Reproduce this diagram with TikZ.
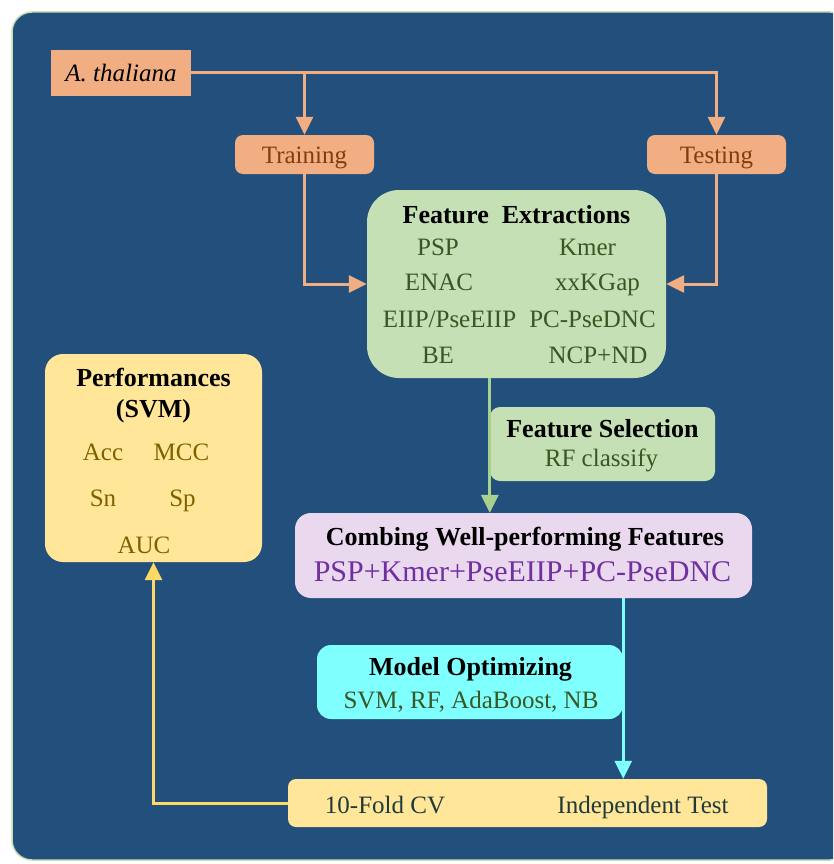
\documentclass[tikz,border=0pt]{standalone}
\usepackage{fontspec}
\setmainfont{Liberation Serif}
\usetikzlibrary{arrows.meta}

\definecolor{bgblue}{HTML}{224F7B}
\definecolor{salmon}{HTML}{F1AE83}
\definecolor{brown}{HTML}{843C0C}
\definecolor{leaf}{HTML}{C5E0B4}
\definecolor{leafline}{HTML}{A9D18E}
\definecolor{darkgreen}{HTML}{385723}
\definecolor{lavender}{HTML}{EAD8EE}
\definecolor{violet}{HTML}{7030A0}
\definecolor{aqua}{HTML}{80FFFF}
\definecolor{cream}{HTML}{FFE699}
\definecolor{gold}{HTML}{FFD966}
\definecolor{olive}{HTML}{7F6000}
\definecolor{slate}{HTML}{1F3A3A}

\begin{document}
\begin{tikzpicture}[x=1pt, y=-1pt,
    box/.style={rounded corners=8pt, inner sep=0pt},
    txt/.style={font=\fontsize{25}{28}\selectfont, inner sep=0pt, anchor=base},
    ttl/.style={font=\fontsize{26}{29}\selectfont\bfseries, inner sep=0pt, anchor=base},
    flow/.style={line width=3pt, -{Triangle[length=18pt, width=17pt]}}]
    \useasboundingbox (0,0) rectangle (833,864);
    \clip (0,0) rectangle (833,864);
    \fill[white] (0,0) rectangle (833,864);
    \draw[fill=bgblue, draw=leaf, line width=1.5pt, rounded corners=20pt] (12,12) rectangle (850,860);

    % boxes
    \node[box, fill=salmon, rounded corners=0pt, minimum width=140pt, minimum height=46pt] (species) at (121,73) {};
    \node[txt] (speciesTxt) at (121,82) {\textit{A. thaliana}};
    \node[box, fill=salmon, minimum width=139pt, minimum height=39pt] (train) at (304.5,154.5) {};
    \node[txt, text=brown] (trainTxt) at (304.5,163) {Training};
    \node[box, fill=salmon, minimum width=139pt, minimum height=39pt] (test) at (716.5,154.5) {};
    \node[txt, text=brown] (testTxt) at (716.5,163) {Testing};

    \node[box, fill=leaf, rounded corners=32pt, minimum width=299pt, minimum height=188pt] (fe) at (516.5,284) {};
    \node[ttl] (feTtl) at (516.5,223) {Feature\ \ Extractions};
    \foreach \t/\x/\y [count=\i] in {PSP/438/255, ENAC/439/290, EIIP\slash PseEIIP/449.5/327, BE/438/363,
            Kmer/587.5/255, xxKGap/597.5/290, PC-PseDNC/592.5/327, NCP+ND/598/363}
        \node[txt, text=darkgreen] (fe\i) at (\x,\y) {\t};

    \node[box, fill=cream, rounded corners=18pt, minimum width=217pt, minimum height=208pt] (perf) at (153.5,458) {};
    \node[ttl] (perfTtl) at (153.5,386) {Performances};
    \node[ttl] (perfSub) at (153.5,417) {(SVM)};
    \foreach \t/\x/\y [count=\i] in {Acc/103/460, MCC/181.5/460, Sn/103/506, Sp/182.5/506, AUC/144/553}
        \node[txt, text=olive] (perf\i) at (\x,\y) {\t};

    \node[box, fill=leaf, rounded corners=10pt, minimum width=225pt, minimum height=74pt] (sel) at (602.5,444) {};
    \node[ttl] (selTtl) at (602.5,437) {Feature Selection};
    \node[txt, text=darkgreen] (selTxt) at (601.5,466) {RF classify};

    \node[box, fill=lavender, rounded corners=16pt, minimum width=457pt, minimum height=85pt] (comb) at (523.5,555.5) {};
    \node[ttl] (combTtl) at (525,545) {Combing Well-performing Features};
    \node[txt, text=violet, font=\fontsize{30}{33}\selectfont] (combTxt) at (522.5,581) {PSP+Kmer+PseEIIP+PC-PseDNC};

    \node[box, fill=aqua, rounded corners=14pt, minimum width=306pt, minimum height=74pt] (opt) at (470,682) {};
    \node[ttl] (optTtl) at (470.5,675) {Model Optimizing};
    \node[txt, text=darkgreen] (optTxt) at (471,708) {SVM, RF, AdaBoost, NB};

    \node[box, fill=cream, minimum width=479pt, minimum height=48pt] (cv) at (527.5,803) {};
    \node[txt, text=slate] (cvTxt) at (385,813) {10-Fold CV};
    \node[txt, text=slate] (indTxt) at (643,813) {Independent Test};

    % connectors
    \draw[flow, salmon] (species.east) -| (test.north);
    \draw[flow, salmon] (species.east -| train.north) -- (train.north);
    \draw[flow, salmon] (train.south) |- (fe.west);
    \draw[flow, salmon] (test.south) |- (fe.east);
    \draw[flow, leafline] (fe.south -| sel.west) -- (comb.north -| sel.west);
    \draw[flow, aqua] (comb.south -| opt.east) -- (cv.north -| opt.east);
    \draw[flow, gold] (cv.west) -| (perf.south);
\end{tikzpicture}
\end{document}
